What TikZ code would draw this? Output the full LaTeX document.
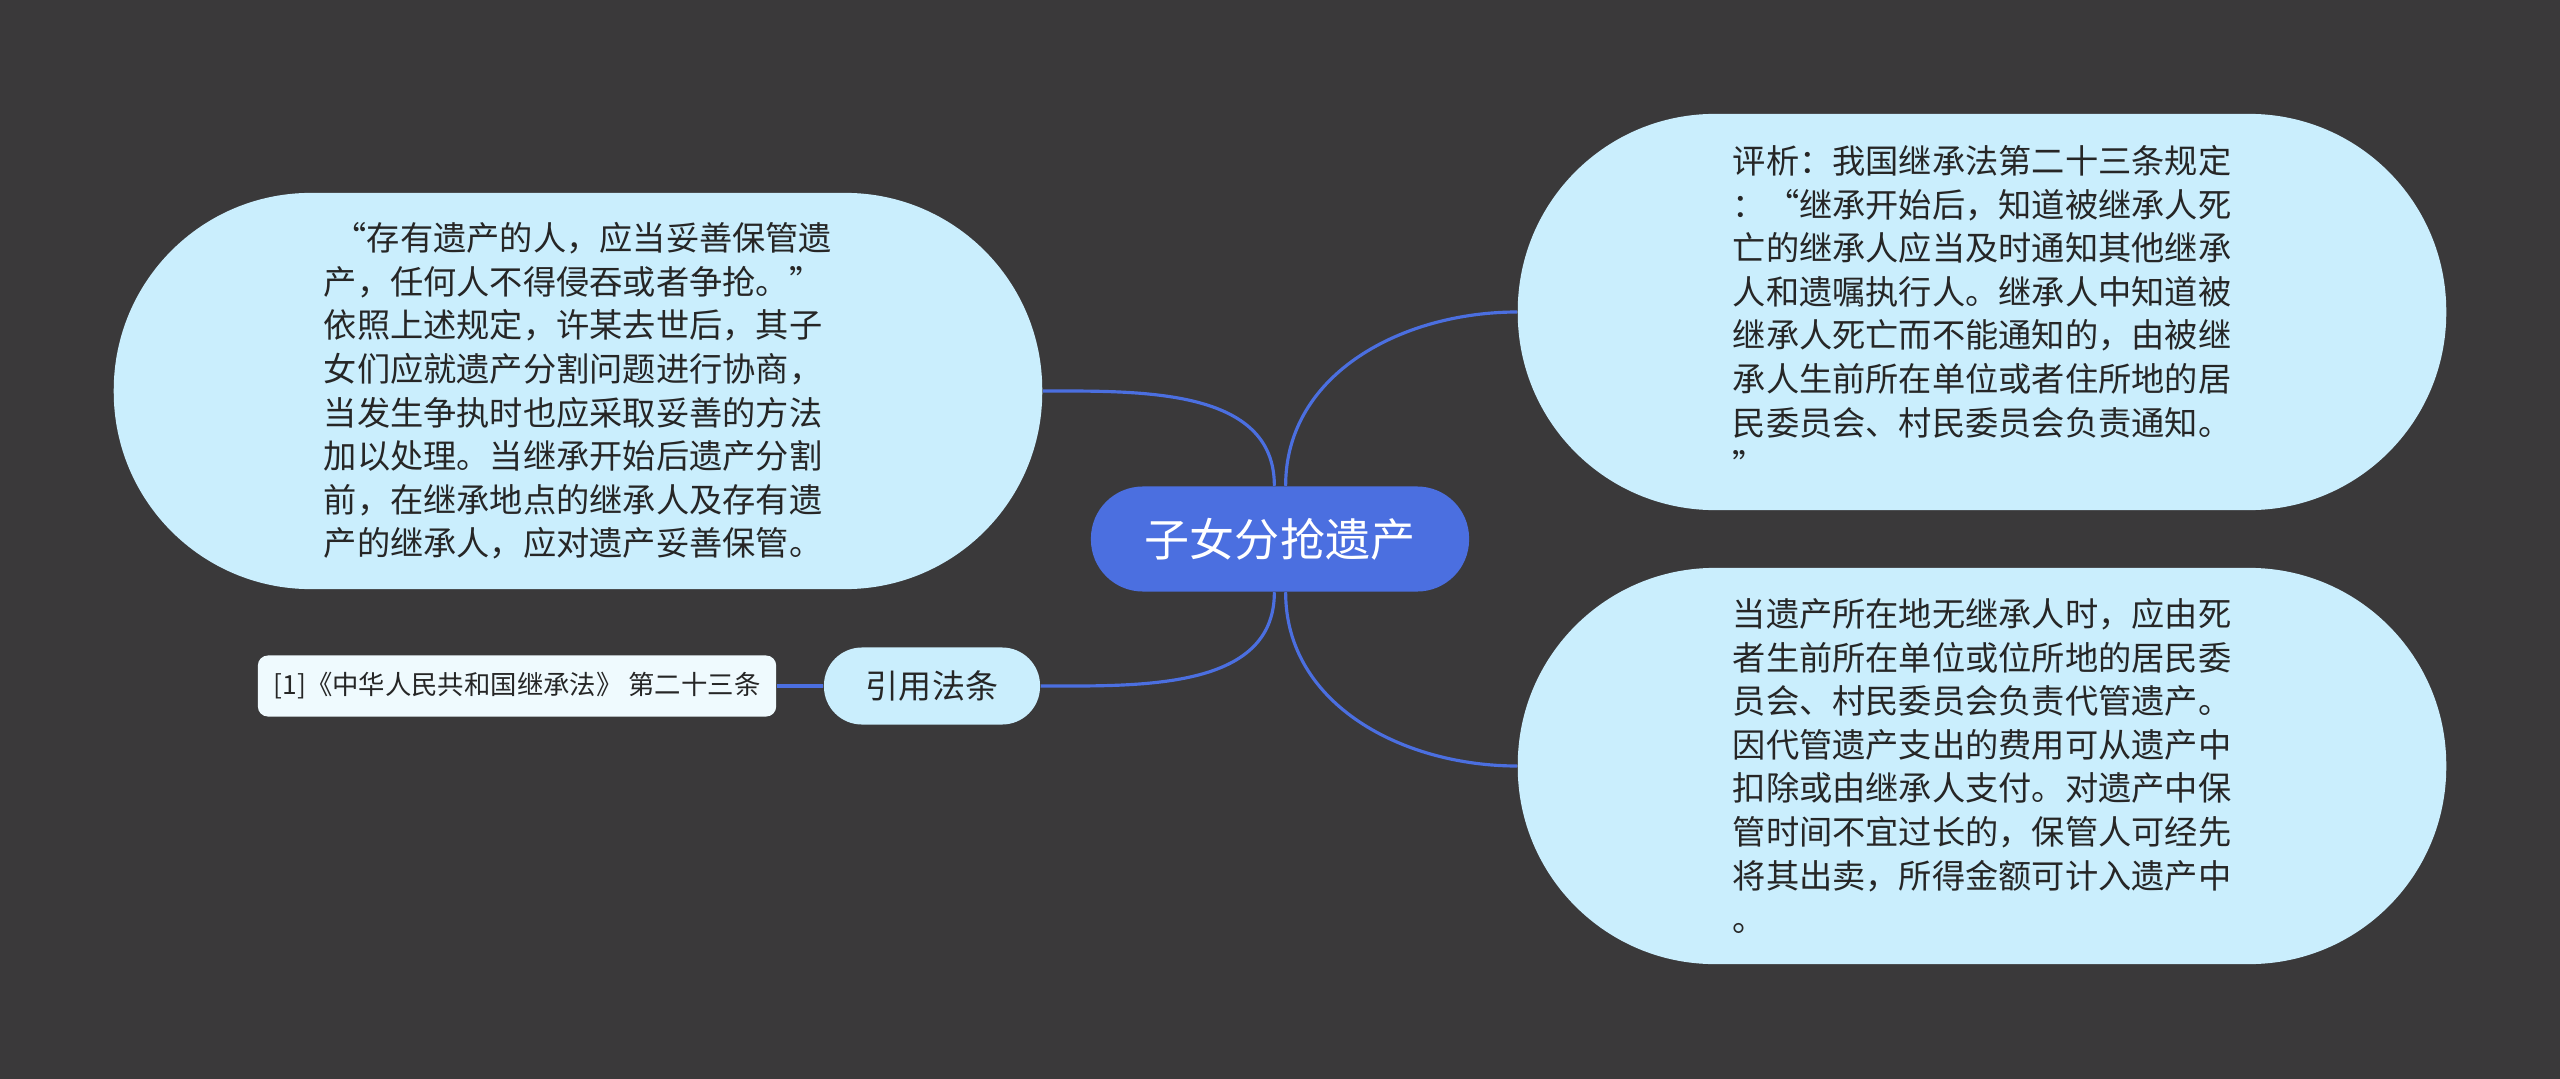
\documentclass[tikz,border=0pt]{standalone}
\usepackage{fontspec}
\newfontfamily\cjk{Noto Sans CJK SC}
\definecolor{bgdark}{HTML}{3A393A}
\definecolor{rootblue}{HTML}{4B6FE0}
\definecolor{leafblue}{HTML}{CAEEFD}
\definecolor{citewhite}{HTML}{EFFAFE}
\definecolor{leaftext}{HTML}{262626}

\begin{document}
\begin{tikzpicture}[x=0.01cm,y=-0.01cm,
  root/.style={fill=rootblue,text=white,minimum width=3.78cm,minimum height=1.05cm,
    rounded corners=0.52cm,inner sep=0pt,font=\cjk\fontsize{12.8pt}{15pt}\selectfont},
  leaf/.style={fill=leafblue,text=leaftext,minimum width=9.28cm,minimum height=3.96cm,
    rounded corners=1.97cm,inner sep=0pt,align=left,font=\cjk\fontsize{9.45pt}{12.4pt}\selectfont},
  tag/.style={fill=leafblue,text=leaftext,minimum width=2.16cm,minimum height=0.77cm,
    rounded corners=0.38cm,inner sep=0pt,font=\cjk\fontsize{9.4pt}{11pt}\selectfont},
  ref/.style={fill=citewhite,text=leaftext,minimum width=5.18cm,minimum height=0.61cm,
    rounded corners=0.1cm,inner sep=0pt,font=\cjk\fontsize{7.5pt}{9pt}\selectfont},
  branch/.style={draw=rootblue,line width=0.9pt}]
  \fill[bgdark] (0,0) rectangle (2560,1079);
  \useasboundingbox (0,0) rectangle (2560,1079);

  \node[root] (root) at (1280,539) {子女分抢遗产};

  \node[leaf] (law) at (578,391) {\hspace*{0.3em}“存有遗产的人，应当妥善保管遗\\
    产，任何人不得侵吞或者争抢。”\\
    依照上述规定，许某去世后，其子\\
    女们应就遗产分割问题进行协商，\\
    当发生争执时也应采取妥善的方法\\
    加以处理。当继承开始后遗产分割\\
    前，在继承地点的继承人及存有遗\\
    产的继承人，应对遗产妥善保管。};

  \node[leaf] (review) at (1982,312) {评析：我国继承法第二十三条规定\\
    ：“继承开始后，知道被继承人死\\
    亡的继承人应当及时通知其他继承\\
    人和遗嘱执行人。继承人中知道被\\
    继承人死亡而不能通知的，由被继\\
    承人生前所在单位或者住所地的居\\
    民委员会、村民委员会负责通知。\\
    ”};

  \node[leaf] (custody) at (1982,766) {当遗产所在地无继承人时，应由死\\
    者生前所在单位或位所地的居民委\\
    员会、村民委员会负责代管遗产。\\
    因代管遗产支出的费用可从遗产中\\
    扣除或由继承人支付。对遗产中保\\
    管时间不宜过长的，保管人可经先\\
    将其出卖，所得金额可计入遗产中\\
    。};

  \node[tag] (cite) at (932,686) {引用法条};
  \node[ref] (source) at (517,686) {[1]《中华人民共和国继承法》 第二十三条};

  % branches
  \draw[branch] ([xshift=-1.6pt]root.north) to[out=90,in=0] (law.east);
  \draw[branch] ([xshift=1.6pt]root.north) to[out=90,in=180] (review.west);
  \draw[branch] ([xshift=1.6pt]root.south) to[out=-90,in=180] (custody.west);
  \draw[branch] ([xshift=-1.6pt]root.south) to[out=-90,in=0] (cite.east);
  \draw[branch] (cite.west) -- (source.east);
\end{tikzpicture}
\end{document}
